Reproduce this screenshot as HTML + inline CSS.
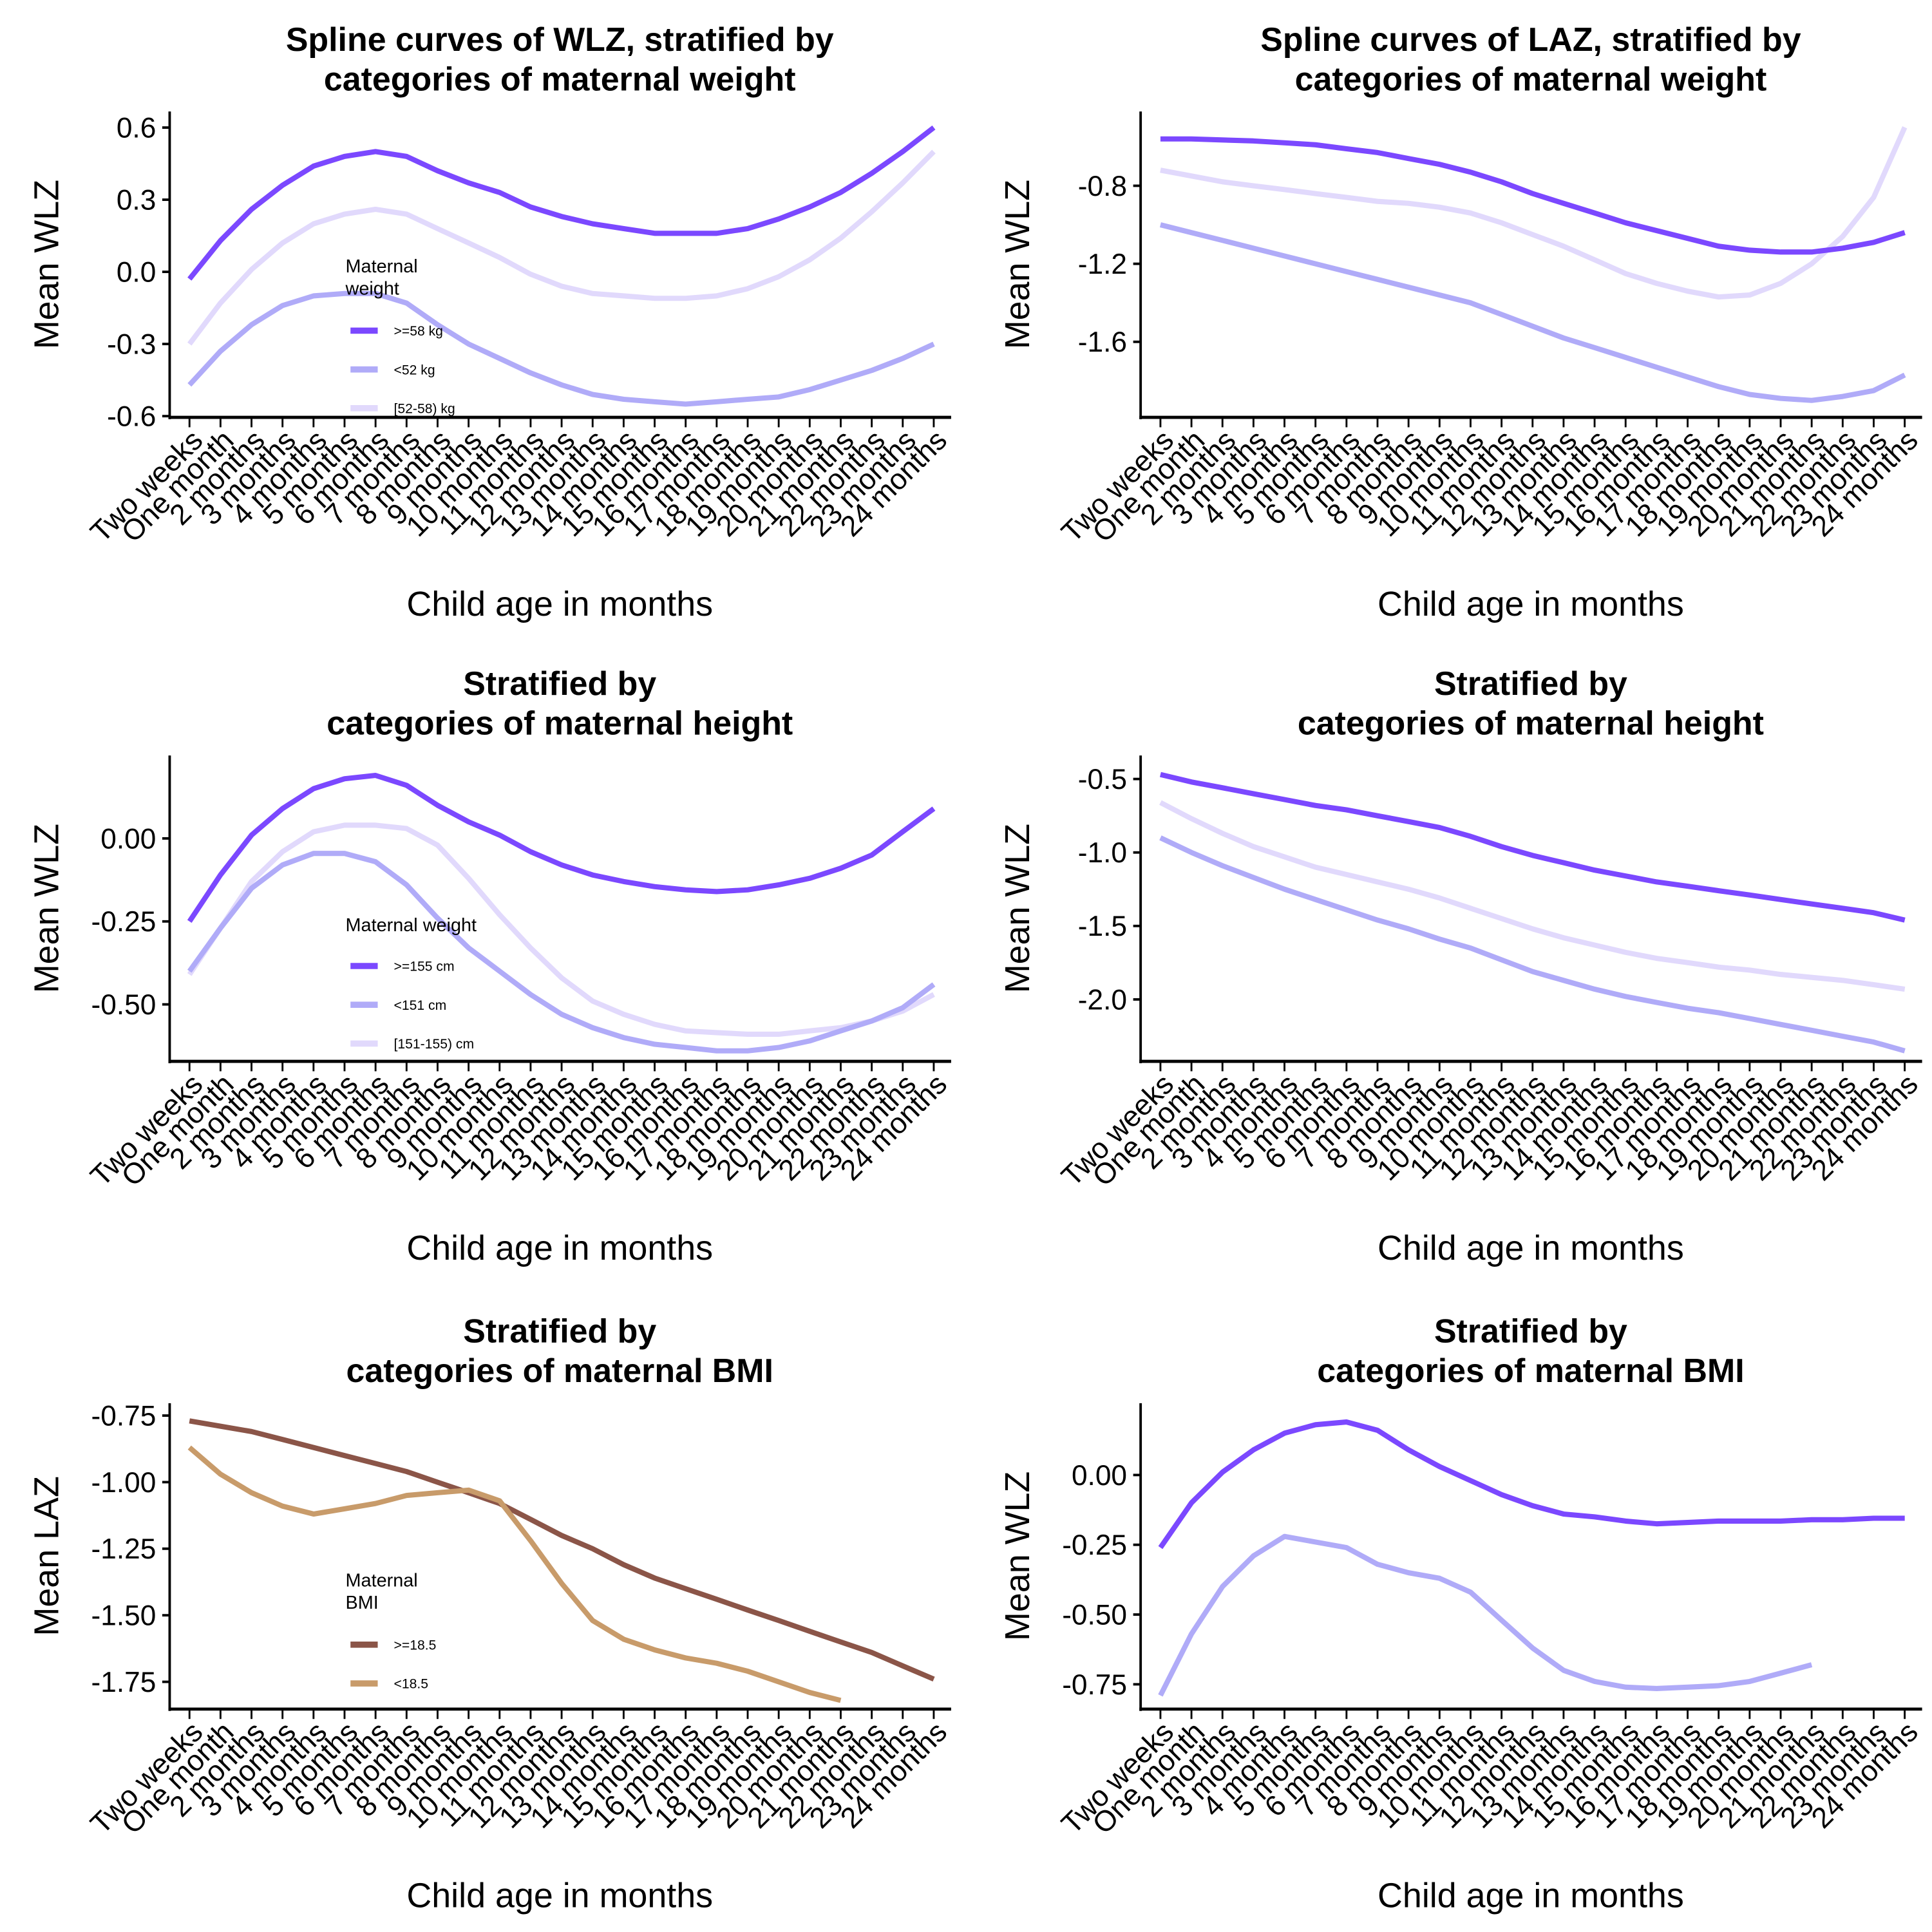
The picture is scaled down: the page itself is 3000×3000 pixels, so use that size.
<!DOCTYPE html>
<html><head><meta charset="utf-8">
<style>
html,body{margin:0;padding:0;background:#fff;}
svg{display:block;}
text{font-family:"Liberation Sans",sans-serif;fill:#000;}
</style></head>
<body>
<svg id="chart" width="3000" height="3000" viewBox="0 0 1560 1560" xmlns="http://www.w3.org/2000/svg"></svg>
<script>
const ageLabels = ["Two weeks","One month","2 months","3 months","4 months","5 months","6 months","7 months","8 months","9 months","10 months","11 months","12 months","13 months","14 months","15 months","16 months","17 months","18 months","19 months","20 months","21 months","22 months","23 months","24 months"];

// Panel 1: WLZ by maternal weight
const wlzWeightHigh = [-0.03,0.13,0.26,0.36,0.44,0.48,0.50,0.48,0.42,0.37,0.33,0.27,0.23,0.20,0.18,0.16,0.16,0.16,0.18,0.22,0.27,0.33,0.41,0.50,0.60];
const wlzWeightLow = [-0.47,-0.33,-0.22,-0.14,-0.10,-0.09,-0.09,-0.13,-0.22,-0.30,-0.36,-0.42,-0.47,-0.51,-0.53,-0.54,-0.55,-0.54,-0.53,-0.52,-0.49,-0.45,-0.41,-0.36,-0.30];
const wlzWeightMid = [-0.30,-0.13,0.01,0.12,0.20,0.24,0.26,0.24,0.18,0.12,0.06,-0.01,-0.06,-0.09,-0.10,-0.11,-0.11,-0.10,-0.07,-0.02,0.05,0.14,0.25,0.37,0.50];
const ticksP1 = [0.6,0.3,0.0,-0.3,-0.6];
const tickLabelsP1 = ["0.6","0.3","0.0","-0.3","-0.6"];

// Panel 2: LAZ by maternal weight
const lazWeightHigh = [-0.56,-0.56,-0.565,-0.57,-0.58,-0.59,-0.61,-0.63,-0.66,-0.69,-0.73,-0.78,-0.84,-0.89,-0.94,-0.99,-1.03,-1.07,-1.11,-1.13,-1.14,-1.14,-1.12,-1.09,-1.04];
const lazWeightLow = [-1.00,-1.04,-1.08,-1.12,-1.16,-1.20,-1.24,-1.28,-1.32,-1.36,-1.40,-1.46,-1.52,-1.58,-1.63,-1.68,-1.73,-1.78,-1.83,-1.87,-1.89,-1.90,-1.88,-1.85,-1.77];
const lazWeightMid = [-0.72,-0.75,-0.78,-0.80,-0.82,-0.84,-0.86,-0.88,-0.89,-0.91,-0.94,-0.99,-1.05,-1.11,-1.18,-1.25,-1.30,-1.34,-1.37,-1.36,-1.30,-1.20,-1.06,-0.86,-0.50];
const ticksP2 = [-0.8,-1.2,-1.6];
const tickLabelsP2 = ["-0.8","-1.2","-1.6"];

// Panel 3: WLZ by maternal height
const wlzHeightHigh = [-0.25,-0.11,0.01,0.09,0.15,0.18,0.19,0.16,0.10,0.05,0.01,-0.04,-0.08,-0.11,-0.13,-0.145,-0.155,-0.16,-0.155,-0.14,-0.12,-0.09,-0.05,0.02,0.09];
const wlzHeightLow = [-0.40,-0.27,-0.15,-0.08,-0.045,-0.045,-0.07,-0.14,-0.24,-0.33,-0.40,-0.47,-0.53,-0.57,-0.60,-0.62,-0.63,-0.64,-0.64,-0.63,-0.61,-0.58,-0.55,-0.51,-0.44];
const wlzHeightMid = [-0.41,-0.27,-0.13,-0.04,0.02,0.04,0.04,0.03,-0.02,-0.12,-0.23,-0.33,-0.42,-0.49,-0.53,-0.56,-0.58,-0.585,-0.59,-0.59,-0.58,-0.57,-0.55,-0.52,-0.47];
const ticksP3 = [0.0,-0.25,-0.5];
const tickLabelsP3 = ["0.00","-0.25","-0.50"];

// Panel 4: LAZ by maternal height
const lazHeightHigh = [-0.47,-0.52,-0.56,-0.60,-0.64,-0.68,-0.71,-0.75,-0.79,-0.83,-0.89,-0.96,-1.02,-1.07,-1.12,-1.16,-1.20,-1.23,-1.26,-1.29,-1.32,-1.35,-1.38,-1.41,-1.46];
const lazHeightLow = [-0.90,-1.00,-1.09,-1.17,-1.25,-1.32,-1.39,-1.46,-1.52,-1.59,-1.65,-1.73,-1.81,-1.87,-1.93,-1.98,-2.02,-2.06,-2.09,-2.13,-2.17,-2.21,-2.25,-2.29,-2.35];
const lazHeightMid = [-0.66,-0.77,-0.87,-0.96,-1.03,-1.10,-1.15,-1.20,-1.25,-1.31,-1.38,-1.45,-1.52,-1.58,-1.63,-1.68,-1.72,-1.75,-1.78,-1.80,-1.83,-1.85,-1.87,-1.90,-1.93];
const ticksP4 = [-0.5,-1.0,-1.5,-2.0];
const tickLabelsP4 = ["-0.5","-1.0","-1.5","-2.0"];

// Panel 5: LAZ by maternal BMI
const lazBmiHigh = [-0.77,-0.79,-0.81,-0.84,-0.87,-0.90,-0.93,-0.96,-1.00,-1.04,-1.08,-1.14,-1.20,-1.25,-1.31,-1.36,-1.40,-1.44,-1.48,-1.52,-1.56,-1.60,-1.64,-1.69,-1.74];
const lazBmiLow = [-0.87,-0.97,-1.04,-1.09,-1.12,-1.10,-1.08,-1.05,-1.04,-1.03,-1.07,-1.22,-1.38,-1.52,-1.59,-1.63,-1.66,-1.68,-1.71,-1.75,-1.79,-1.82];
const ticksP5 = [-0.75,-1.0,-1.25,-1.5,-1.75];
const tickLabelsP5 = ["-0.75","-1.00","-1.25","-1.50","-1.75"];

// Panel 6: WLZ by maternal BMI
const wlzBmiHigh = [-0.26,-0.10,0.01,0.09,0.15,0.18,0.19,0.16,0.09,0.03,-0.02,-0.07,-0.11,-0.14,-0.15,-0.165,-0.175,-0.17,-0.165,-0.165,-0.165,-0.16,-0.16,-0.155,-0.155];
const wlzBmiLow = [-0.79,-0.57,-0.40,-0.29,-0.22,-0.24,-0.26,-0.32,-0.35,-0.37,-0.42,-0.52,-0.62,-0.70,-0.74,-0.76,-0.765,-0.76,-0.755,-0.74,-0.71,-0.68];
const ticksP6 = [0.0,-0.25,-0.5,-0.75];
const tickLabelsP6 = ["0.00","-0.25","-0.50","-0.75"];

const C_DARK="#7b48ff", C_MID="#b0abf8", C_LIGHT="#e1d9fc", C_BROWN="#8b5548", C_TAN="#c89b6a";
const NS="http://www.w3.org/2000/svg";
const svg=document.getElementById('chart');
function mk(tag,attrs,parent){const e=document.createElementNS(NS,tag);for(const k in attrs)e.setAttribute(k,attrs[k]);(parent||svg).appendChild(e);return e;}

function panel(cfg){
  const g=mk('g',{});
  
  
  const axL=cfg.ox, axR=cfg.ox+631, axB=cfg.oy, axT=cfg.oy-247;
  const x0=axL+16, dx=25.04;
  const xs=i=>x0+i*dx;
  const ys=v=>cfg.py0+(v-cfg.v0)*(cfg.py1-cfg.py0)/(cfg.v1-cfg.v0);
  cfg.title.forEach((t,i)=>{const e=mk('text',{x:axL+315,y:cfg.oy-296+i*32,'text-anchor':'middle','font-size':27,'font-weight':'bold'},g);e.textContent=t;
    
    });
  const yt=mk('text',{transform:`translate(${axL-90},${(axT+axB)/2}) rotate(-90)`,'text-anchor':'middle','font-size':28},g);yt.textContent=cfg.ytitle;
  
  
  const xt=mk('text',{x:axL+315,y:axB+160,'text-anchor':'middle','font-size':28},g);xt.textContent="Child age in months";
  
  
  const ya=mk('line',{x1:axL,y1:axT,x2:axL,y2:axB+1.5,stroke:'#000','stroke-width':2},g);
  
  
  const xa=mk('line',{x1:axL-1,y1:axB,x2:axR,y2:axB,stroke:'#000','stroke-width':2.5},g);
  
  
  cfg.ticks.forEach((v,i)=>{const y=ys(v);
    mk('line',{x1:axL-6,y1:y,x2:axL,y2:y,stroke:'#000','stroke-width':2},g);
    const t=mk('text',{x:axL-11,y:y+8,'text-anchor':'end','font-size':23},g);t.textContent=cfg.tickLabels[i];
    
    });
  ageLabels.forEach((l,i)=>{const x=xs(i);
    mk('line',{x1:x,y1:axB,x2:x,y2:axB+8,stroke:'#000','stroke-width':1.5},g);
    const t=mk('text',{transform:`translate(${x+12},${axB+20}) rotate(-45)`,'text-anchor':'end','font-size':23.5},g);t.textContent=l;
    
    });
  cfg.series.forEach(s=>{const pts=s.data.map((v,i)=>xs(i).toFixed(1)+','+ys(v).toFixed(1)).join(' ');
    const p=mk('polyline',{points:pts,fill:'none',stroke:s.color,'stroke-width':4.2,'stroke-linejoin':'round'},g);
    
    });
  if(cfg.legend){const L=cfg.legend;
    L.title.forEach((t,i)=>{const e=mk('text',{x:L.x,y:L.y+i*18,'font-size':15},g);e.textContent=t;
      
      });
    L.items.forEach((it,i)=>{const y=L.ky+i*31.3;
      const k=mk('line',{x1:L.x+4,y1:y,x2:L.x+26,y2:y,stroke:it.color,'stroke-width':5},g);
      
      
      const e=mk('text',{x:L.x+39,y:y+4,'font-size':11},g);e.textContent=it.label;
      
      });
  }
}

panel({name:'panel-wlz-weight',ox:137,oy:337,title:["Spline curves of WLZ, stratified by","categories of maternal weight"],ytitle:"Mean WLZ",
  v0:0.6,py0:103,v1:-0.6,py1:336,ticks:ticksP1,tickLabels:tickLabelsP1,
  series:[{name:'line-mid-weight',data:wlzWeightMid,color:C_LIGHT},{name:'line-low-weight',data:wlzWeightLow,color:C_MID},{name:'line-high-weight',data:wlzWeightHigh,color:C_DARK}],
  legend:{x:279,y:220,ky:267,title:["Maternal","weight"],items:[{label:">=58 kg",color:C_DARK},{label:"<52 kg",color:C_MID},{label:"[52-58) kg",color:C_LIGHT}]}});
panel({name:'panel-laz-weight',ox:921,oy:337,title:["Spline curves of LAZ, stratified by","categories of maternal weight"],ytitle:"Mean WLZ",
  v0:-0.8,py0:150,v1:-1.6,py1:276,ticks:ticksP2,tickLabels:tickLabelsP2,
  series:[{name:'line-mid-weight',data:lazWeightMid,color:C_LIGHT},{name:'line-low-weight',data:lazWeightLow,color:C_MID},{name:'line-high-weight',data:lazWeightHigh,color:C_DARK}]});
panel({name:'panel-wlz-height',ox:137,oy:857,title:["Stratified by","categories of maternal height"],ytitle:"Mean WLZ",
  v0:0,py0:677,v1:-0.5,py1:811,ticks:ticksP3,tickLabels:tickLabelsP3,
  series:[{name:'line-mid-height',data:wlzHeightMid,color:C_LIGHT},{name:'line-low-height',data:wlzHeightLow,color:C_MID},{name:'line-high-height',data:wlzHeightHigh,color:C_DARK}],
  legend:{x:279,y:752,ky:780,title:["Maternal weight"],items:[{label:">=155 cm",color:C_DARK},{label:"<151 cm",color:C_MID},{label:"[151-155) cm",color:C_LIGHT}]}});
panel({name:'panel-laz-height',ox:921,oy:857,title:["Stratified by","categories of maternal height"],ytitle:"Mean WLZ",
  v0:-0.5,py0:629,v1:-2.0,py1:807,ticks:ticksP4,tickLabels:tickLabelsP4,
  series:[{name:'line-mid-height',data:lazHeightMid,color:C_LIGHT},{name:'line-low-height',data:lazHeightLow,color:C_MID},{name:'line-high-height',data:lazHeightHigh,color:C_DARK}]});
panel({name:'panel-laz-bmi',ox:137,oy:1380,title:["Stratified by","categories of maternal BMI"],ytitle:"Mean LAZ",
  v0:-0.75,py0:1143,v1:-1.75,py1:1358,ticks:ticksP5,tickLabels:tickLabelsP5,
  series:[{name:'line-bmi-high',data:lazBmiHigh,color:C_BROWN},{name:'line-bmi-low',data:lazBmiLow,color:C_TAN}],
  legend:{x:279,y:1281,ky:1328,title:["Maternal","BMI"],items:[{label:">=18.5",color:C_BROWN},{label:"<18.5",color:C_TAN}]}});
panel({name:'panel-wlz-bmi',ox:921,oy:1380,title:["Stratified by","categories of maternal BMI"],ytitle:"Mean WLZ",
  v0:0,py0:1191,v1:-0.75,py1:1360,ticks:ticksP6,tickLabels:tickLabelsP6,
  series:[{name:'line-bmi-low',data:wlzBmiLow,color:C_MID},{name:'line-bmi-high',data:wlzBmiHigh,color:C_DARK}]});
</script>
</body></html>
